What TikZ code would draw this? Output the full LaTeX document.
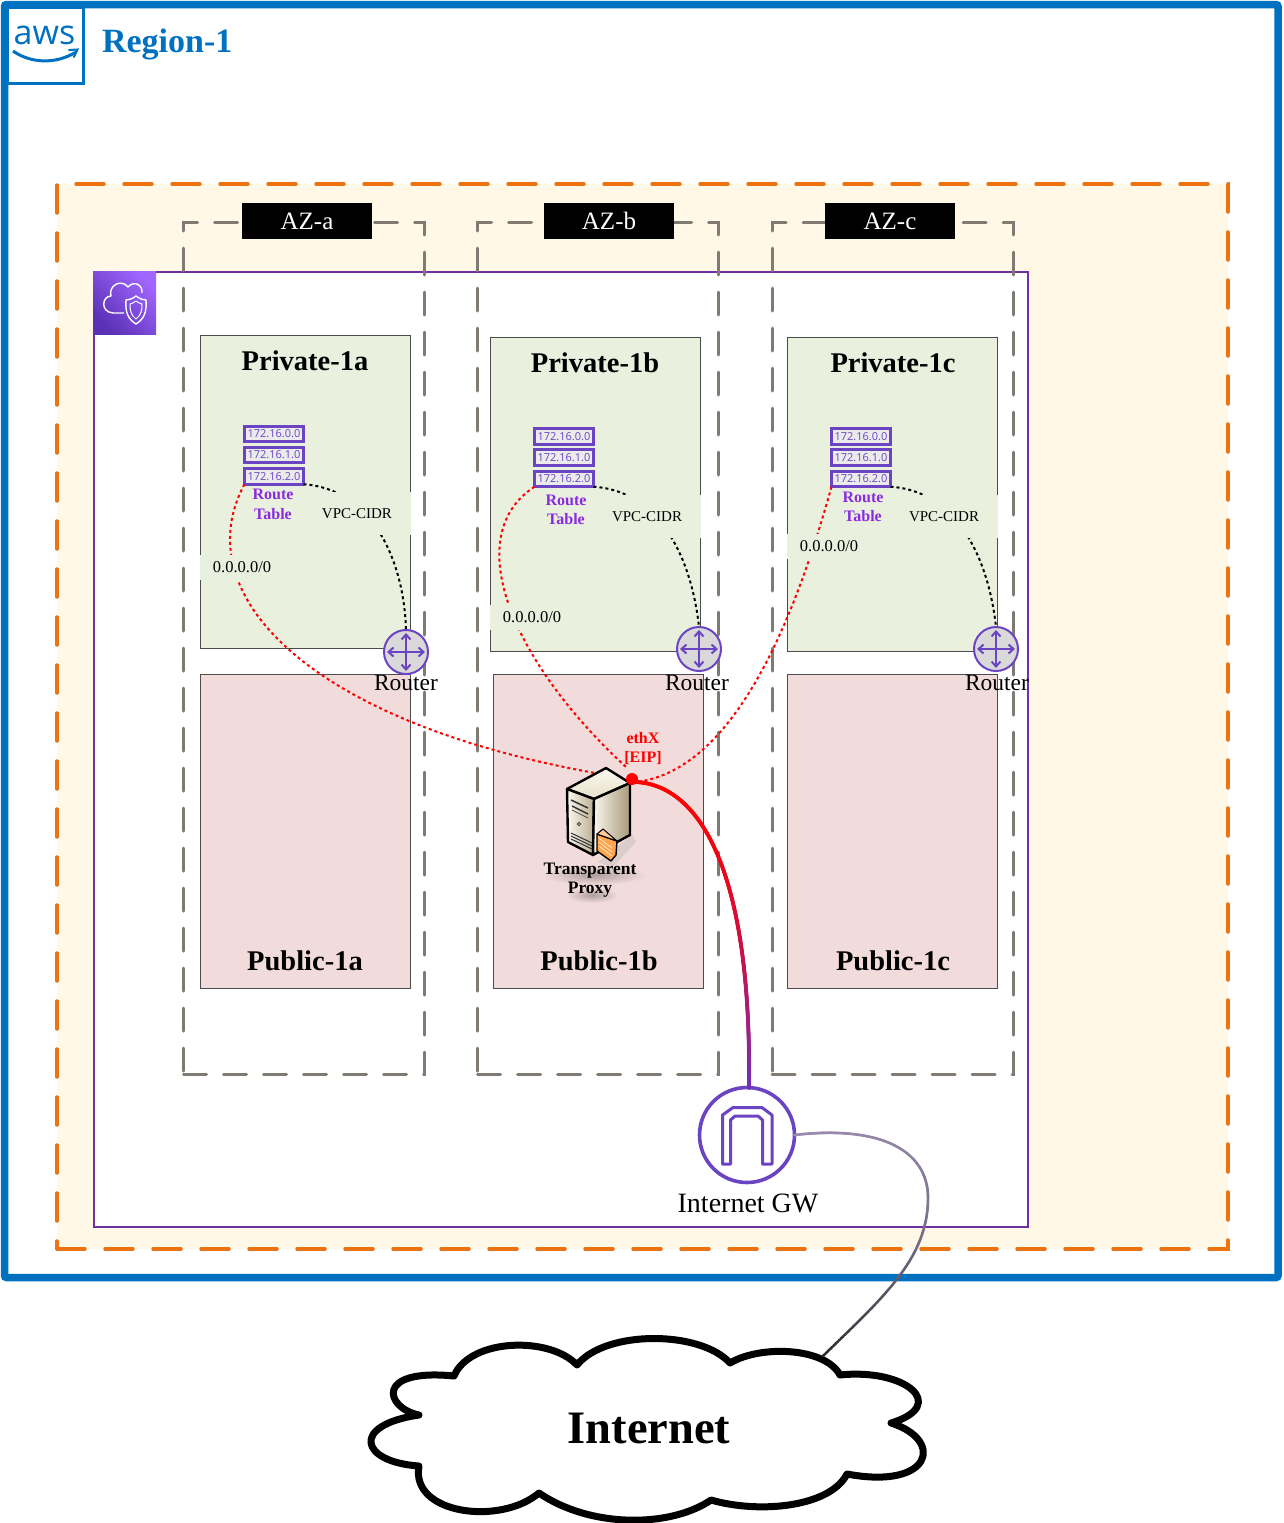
\documentclass[tikz,border=0pt]{standalone}
\usepackage{xcolor}
\usepackage{fontspec}
\setmainfont{Liberation Serif}
\setsansfont{Open Sans}
\usepackage{tikz}
\usetikzlibrary{arrows.meta, decorations.markings}

\definecolor{regionblue}{HTML}{0070C0}
\definecolor{vpcpurple}{HTML}{7030A0}
\definecolor{iconpurple}{HTML}{6B44C4}
\definecolor{labelpurple}{HTML}{8A2BE2}
\definecolor{zoneorange}{HTML}{ED7311}
\definecolor{zonefill}{HTML}{FFF8E6}
\definecolor{azgrey}{HTML}{7F7B72}
\definecolor{privfill}{HTML}{E9F0DE}
\definecolor{pubfill}{HTML}{F2DCDB}
\definecolor{igwlinkend}{HTML}{7030C0}
\definecolor{inetlinkstart}{HTML}{9A8BAE}
\definecolor{inetlinkend}{HTML}{2A2A2A}
\definecolor{vpctop}{HTML}{A166FF}
\definecolor{vpcbottom}{HTML}{5A30B5}
\definecolor{servercream}{HTML}{FBF8EE}
\definecolor{servermid}{HTML}{E8E0CC}
\definecolor{servertan}{HTML}{A89878}

\begin{document}
\begin{tikzpicture}[
    x=1pt, y=-1pt,
    every node/.style={inner sep=0pt, outer sep=0pt},
    region/.style={rectangle, draw=regionblue, line width=7.5pt, rounded corners=2pt, fill=white, anchor=north west, minimum width=1273.5pt, minimum height=1273pt},
    zone/.style={rectangle, draw=zoneorange, fill=zonefill, line width=3.5pt, line cap=round, dash pattern=on 28pt off 20pt, anchor=north west, minimum width=1171pt, minimum height=1065pt},
    vpc/.style={rectangle, draw=vpcpurple, fill=white, line width=2pt, anchor=north west, minimum width=934pt, minimum height=955pt},
    az/.style={rectangle, draw=azgrey, line width=3pt, line cap=round, dash pattern=on 23pt off 17pt, anchor=north west, minimum width=241pt, minimum height=852pt},
    azlabel/.style={rectangle, fill=black, text=white, minimum width=130pt, minimum height=36pt, font=\fontsize{25}{25}\selectfont},
    subnet/.style={rectangle, draw=black!70, line width=1pt, anchor=north west, minimum width=210pt, minimum height=#1},
    title/.style={font=\bfseries\fontsize{28.5}{28.5}\selectfont, text=black},
    rtrow/.style={rectangle, draw=iconpurple, line width=2.6pt, fill=black!8, text=iconpurple, minimum width=59pt, minimum height=15.5pt, font=\sffamily\fontsize{11}{11}\selectfont},
    rtlabel/.style={text=labelpurple, font=\bfseries\fontsize{16}{19.5}\selectfont, align=center},
    cidr/.style={rectangle, fill=privfill, minimum width=108pt, minimum height=43pt, font=\fontsize{15}{15}\selectfont},
    dflt/.style={rectangle, fill=privfill, minimum width=84pt, minimum height=25pt, font=\fontsize{16.5}{16.5}\selectfont},
    router/.style={circle, draw=iconpurple, fill=black!15, line width=2pt, minimum size=44pt},
    routertext/.style={font=\fontsize{23.5}{23.5}\selectfont},
    crossarrow/.style={{Straight Barb[length=5pt,width=9pt]}-{Straight Barb[length=5pt,width=9pt]}, draw=iconpurple, line width=2pt, shorten >=3pt, shorten <=3pt},
    redlink/.style={draw=red, line width=2pt, dash pattern=on 3pt off 3pt},
    blacklink/.style={draw=black, line width=2pt, dash pattern=on 3pt off 3pt},
    serverface/.style={draw=black, line width=2.4pt, line join=round},
    fadelink/.style n args={4}{draw=#3, line width=#4-1pt, line cap=round, postaction={decorate}, decoration={markings, mark=between positions 0 and 1 step 1pt with {
        \pgfmathsetmacro{\fadepos}{\pgfkeysvalueof{/pgf/decoration/mark info/distance from start}/\pgfdecoratedpathlength}
        \pgfmathsetmacro{\fadeval}{min(100,\fadepos*\fadepos*100)}
        \fill[color=#2!\fadeval!#1] (0,0) circle (#4/2);}}}
]
\useasboundingbox (0,0) rectangle (1283,1523);

% frames
\node[region] (reg) at (4.5,4.5) {};
\node[rectangle, draw=regionblue, line width=3pt, minimum width=76pt, minimum height=76pt, anchor=north west] (awsbox) at (7,7) {};
\node[text=regionblue, font=\sffamily\fontsize{34}{34}\selectfont] (awstext) at (44.5,35) {aws};
\coordinate (smileL) at (13,51);
\coordinate (smileR) at (76,52);
\draw[regionblue, line width=3pt] (smileL) .. controls (30,63) and (55,65) .. (smileR);
\draw[regionblue, line width=2pt, line cap=round] (69,50) -- (77.5,49.5) -- (74,57);
\node[anchor=west, text=regionblue, font=\bfseries\fontsize{34}{34}\selectfont] (regtext) at (102,44) {Region-1};

\node[zone] (zn) at (57,184) {};
\node[vpc] (vp) at (94,272) {};
\node[az] (aza) at (183.5,222) {};
\node[az] (azb) at (477.5,222) {};
\node[az] (azc) at (772,222) {};
\node[azlabel] (azat) at (307,221) {AZ-a};
\node[azlabel] (azbt) at (609,221) {AZ-b};
\node[azlabel] (azct) at (890,221) {AZ-c};

% vpc icon
\node[rectangle, minimum size=63pt, anchor=north west, bottom color=vpcbottom, top color=vpctop, shading angle=-45] (vpcicon) at (93,271) {};
\draw[white, line width=1.4pt, line join=round] (124,313) -- (113,313) .. controls (100,312) and (102,296) .. (111,296) .. controls (108,286) and (121,278) .. (128,287) .. controls (134,280) and (143,285) .. (142,293);
\draw[white, line width=1.4pt, line join=round] (136,296) .. controls (140,299) and (143,300) .. (146,300) .. controls (147,312) and (144,319) .. (136,324) .. controls (128,319) and (125,312) .. (126,300) .. controls (129,300) and (132,299) .. (136,296) -- cycle;
\draw[white, line width=1pt, line join=round] (136,301) .. controls (138,303) and (140,303) .. (142,304) .. controls (142,311) and (141,315) .. (136,319) .. controls (131,315) and (130,311) .. (130,304) .. controls (132,303) and (134,303) .. (136,301) -- cycle;

% subnets
\node[subnet=313pt, fill=privfill] (pra) at (200,335) {};
\node[subnet=314pt, fill=privfill] (prb) at (490,337) {};
\node[subnet=314pt, fill=privfill] (prc) at (787,337) {};
\node[subnet=314pt, fill=pubfill] (pua) at (200,674) {};
\node[subnet=314pt, fill=pubfill] (pub) at (493.5,674) {};
\node[subnet=314pt, fill=pubfill] (puc) at (787,674) {};
\node[title] (prat) at (305,361) {Private-1a};
\node[title] (prbt) at (595,363) {Private-1b};
\node[title] (prct) at (893,363) {Private-1c};
\node[title] (puat) at (305,961) {Public-1a};
\node[title] (pubt) at (599,961) {Public-1b};
\node[title] (puct) at (893,961) {Public-1c};

% route tables
\node[rtrow] (rta1) at (274,434) {172.16.0.0};
\node[rtrow] (rta2) at (274,455) {172.16.1.0};
\node[rtrow] (rta3) at (274,476.5) {172.16.2.0};
\node[rtrow] (rtb1) at (564,436.5) {172.16.0.0};
\node[rtrow] (rtb2) at (564,457.5) {172.16.1.0};
\node[rtrow] (rtb3) at (564,479) {172.16.2.0};
\node[rtrow] (rtc1) at (861,436.5) {172.16.0.0};
\node[rtrow] (rtc2) at (861,457.5) {172.16.1.0};
\node[rtrow] (rtc3) at (861,479) {172.16.2.0};

% routers
\node[router] (ra) at (406,652) {};
\node[router] (rb) at (699,649) {};
\node[router] (rc) at (996,649) {};

% server anchors
\coordinate (proxya) at (595,773);
\coordinate (proxyb) at (626,767);
\coordinate (proxyc) at (636,782);

% route links
\draw[blacklink] (rta3.south east) .. controls (372,489) and (404,560) .. (ra.north);
\draw[blacklink] (rtb3.south east) .. controls (662,491) and (692,562) .. (rb.north);
\draw[blacklink] (rtc3.south east) .. controls (959,491) and (989,562) .. (rc.north);
\draw[redlink] (rta3.south west) .. controls (187,590) and (300,720) .. (proxya);
\draw[redlink] (rtb3.south west) .. controls (460,535) and (510,660) .. (proxyb);
\draw[redlink] (rtc3.south west) .. controls (800,600) and (740,770) .. (proxyc);

% labels sit on the links
\node[cidr] (cidra) at (357,513.5) {VPC-CIDR};
\node[cidr] (cidrb) at (647,516.5) {VPC-CIDR};
\node[cidr] (cidrc) at (944,516.5) {VPC-CIDR};
\node[dflt] (dflta) at (242,567.5) {0.0.0.0/0};
\node[dflt] (dfltb) at (532,617.5) {0.0.0.0/0};
\node[dflt] (dfltc) at (829,546.5) {0.0.0.0/0};
\node[rtlabel] (rtla) at (273,504.5) {Route\\Table};
\node[rtlabel] (rtlb) at (566,510) {Route\\Table};
\node[rtlabel] (rtlc) at (863,507) {Route\\Table};

\draw[crossarrow] (ra.west) -- (ra.east);
\draw[crossarrow] (ra.north) -- (ra.south);
\draw[crossarrow] (rb.west) -- (rb.east);
\draw[crossarrow] (rb.north) -- (rb.south);
\draw[crossarrow] (rc.west) -- (rc.east);
\draw[crossarrow] (rc.north) -- (rc.south);
\node[routertext] (rat) at (406,683) {Router};
\node[routertext] (rbt) at (697,683) {Router};
\node[routertext] (rct) at (997,683) {Router};

% server
\fill[black!30, opacity=0.35] (632,835) -- (636,842) -- (612,868) -- (598,862) -- cycle;
\draw[serverface, top color=servercream, bottom color=servermid] (606,768) -- (630,783) -- (594,799) -- (567,789) -- cycle;
\draw[serverface, left color=servercream, right color=servertan!70!servermid] (567,789) -- (594,799) -- (593,855) -- (568,842) -- cycle;
\draw[serverface, left color=servercream, right color=servertan] (594,799) -- (630,783) -- (630,835) -- (593,855) -- cycle;
\draw[black!80, line width=1.5pt] (571,800) -- (588,808) (572,806) -- (588,814);
\draw[black!70, line width=0.8pt] (572,810) -- (588,818);
\draw[black!70, line width=0.8pt, fill=black!30] (579,824) circle (1.8pt);
\draw[black!80, line width=1pt] (571,833) -- (592,843) (571,836) -- (592,846) (571,839) -- (592,849);
\draw[black, line width=1.4pt, line join=round, fill=orange!70!white] (597,834) -- (617,841) -- (616,855) -- (611,861) -- (597,851) -- cycle;
\draw[white, line width=0.5pt] (599,838) -- (612,848) (599,842) -- (612,852) (599,846) -- (612,856);
\draw[black, line width=1pt, line join=round, fill=orange!40!white] (597,834) -- (603,829) -- (617,841) -- cycle;
\shade[inner color=black!28!pubfill, outer color=pubfill] (594,875) ellipse (52 and 10);
\shade[inner color=black!28!pubfill, outer color=pubfill] (592,895) ellipse (26 and 8);
\node[align=center, font=\bfseries\fontsize{17.5}{19}\selectfont] (proxyt) at (590,880) {Transparent\\Proxy};

% internet gateway
\node[circle, draw=iconpurple, fill=white, line width=3.6pt, minimum size=95pt] (igw) at (747,1135) {};
\draw[iconpurple, line width=3pt, line join=round] (722.5,1164) -- (722.5,1115) -- (733,1107.5) -- (762,1107.5) -- (772,1115) -- (772,1164) -- (762.5,1164) -- (762.5,1120) -- (758,1116) -- (735,1116) -- (730.5,1120) -- (730.5,1164) -- cycle;
\node[font=\fontsize{28}{28}\selectfont] (igwt) at (748,1203) {Internet GW};

% internet cloud
\node[font=\bfseries\fontsize{46.5}{46.5}\selectfont] (inet) at (649,1428) {Internet};
\coordinate (cloudnotch) at (823,1356);
\draw[black, line width=7pt, line join=round] (419,1415)
    .. controls (385,1408) and (374,1368) .. (454,1376)
    .. controls (470,1338) and (550,1336) .. (577,1365)
    .. controls (605,1330) and (700,1330) .. (730,1363)
    .. controls (760,1345) and (825,1347) .. (840,1375)
    .. controls (905,1368) and (950,1405) .. (891,1423)
    .. controls (945,1440) and (932,1490) .. (847,1474)
    .. controls (830,1507) and (760,1514) .. (711,1500)
    .. controls (670,1528) and (590,1528) .. (539,1493)
    .. controls (500,1526) and (410,1514) .. (419,1466)
    .. controls (360,1462) and (350,1425) .. (419,1415) -- cycle;

% links to the internet
\draw[fadelink={red}{igwlinkend}{red}{4pt}] (proxyc) .. controls (695,785) and (752,860) .. (749,1088);
\draw[fadelink={inetlinkstart}{inetlinkend}{inetlinkstart}{3pt}] (igw.east) .. controls (880,1125) and (928,1150) .. (928,1198) .. controls (928,1260) and (880,1300) .. (cloudnotch);

\node[circle, fill=red, minimum size=12pt] (eth) at (632,779) {};
\node[text=red, align=center, font=\bfseries\fontsize{16}{19}\selectfont] (etht) at (643,749) {ethX\\{}[EIP]};

\end{tikzpicture}
\end{document}
